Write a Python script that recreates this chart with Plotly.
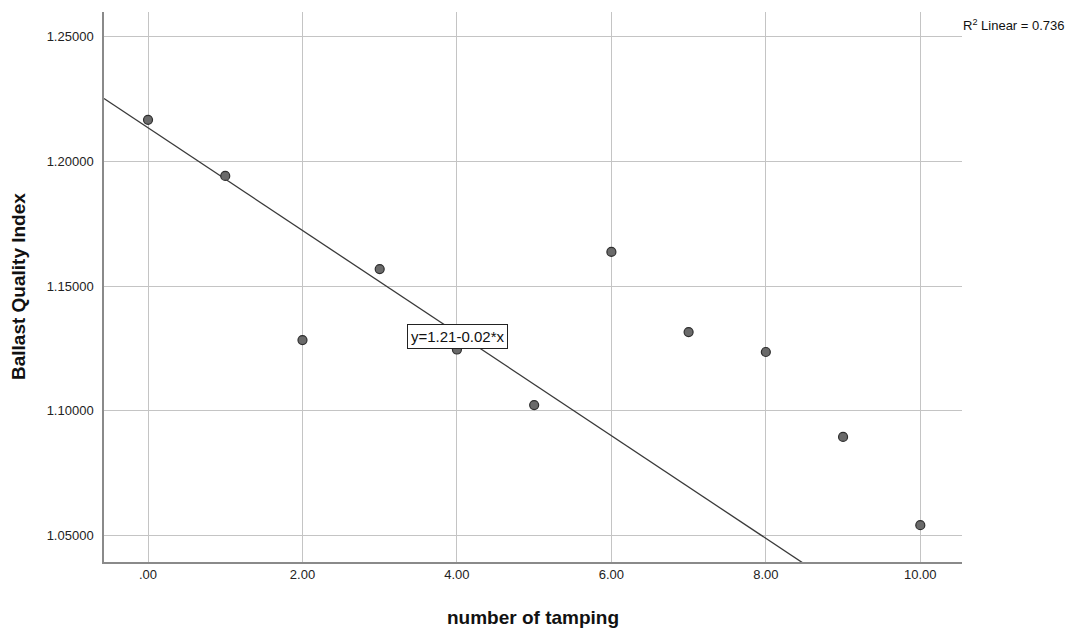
import numpy as np
import plotly.graph_objects as go

# Observations: number of tamping passes vs. ballast quality index
tamping = [0, 1, 2, 3, 4, 5, 6, 7, 8, 9, 10]
bqi = [1.2167, 1.1942, 1.1283, 1.1568, 1.1245, 1.1022, 1.1637, 1.1315, 1.1235, 1.0894, 1.0540]

# Linear fit reported for the full sample
fit_intercept = 1.2135
fit_slope = -0.0206
r_squared = 0.736

x_ticks = [0, 2, 4, 6, 8, 10]
x_ticktext = [".00", "2.00", "4.00", "6.00", "8.00", "10.00"]
y_ticks = [1.05, 1.10, 1.15, 1.20, 1.25]

x_range = [-0.57, 10.54]
y_range = [1.0392, 1.2600]

FONT = "Liberation Sans, Arial, sans-serif"

fig = go.Figure()

# Fit line spanning the whole x range (clipped to the plot area)
fx = np.array(x_range)
fig.add_trace(go.Scatter(
    x=fx, y=fit_intercept + fit_slope * fx,
    mode="lines", line=dict(color="#3a3a3a", width=1.3),
    hoverinfo="skip", showlegend=False,
))

fig.add_trace(go.Scatter(
    x=tamping, y=bqi, mode="markers",
    marker=dict(size=9, color="#6a6a6a", line=dict(color="#2e2e2e", width=1.2)),
    showlegend=False,
))

# Equation label on the fit line
sign = "-" if fit_slope < 0 else "+"
fig.add_annotation(
    x=4.01, y=1.1299, xref="x", yref="y",
    text=f"y={fit_intercept:.2f}{sign}{abs(fit_slope):.2f}*x",
    showarrow=False, font=dict(family=FONT, size=15, color="#111"),
    bgcolor="white", bordercolor="#222", borderwidth=1, borderpad=3,
)

# R squared note at top right
fig.add_annotation(
    x=1.0, y=0.995, xref="paper", yref="paper", xanchor="left", yanchor="top",
    xshift=-1,
    text=f"R<sup>2</sup> Linear = {r_squared:.3f}",
    showarrow=False, font=dict(family=FONT, size=13, color="#111"),
)

# Axis titles
fig.add_annotation(
    x=0.5, y=-0.1, xref="paper", yref="paper", xanchor="center", yanchor="middle",
    text="<b>number of tamping</b>", showarrow=False,
    font=dict(family=FONT, size=19, color="#111"),
)
fig.add_annotation(
    x=-0.1002, y=0.5, xref="paper", yref="paper", xanchor="center", yanchor="middle",
    text="<b>Ballast Quality Index</b>", showarrow=False, textangle=-90,
    font=dict(family=FONT, size=19, color="#111"),
)

fig.update_xaxes(
    range=x_range, tickvals=x_ticks, ticktext=x_ticktext,
    showgrid=True, gridcolor="#c4c4c4", gridwidth=1,
    showline=True, linecolor="#8a8a8a", linewidth=1.5,
    zeroline=False, ticks="", ticklen=0, automargin=False,
    tickfont=dict(family=FONT, size=13, color="#222"),
)
fig.update_yaxes(
    range=y_range, tickvals=y_ticks, tickformat=".5f",
    showgrid=True, gridcolor="#c4c4c4", gridwidth=1,
    showline=True, linecolor="#8a8a8a", linewidth=1.5,
    zeroline=False, ticks="", ticklen=0, ticklabelstandoff=6, automargin=False,
    tickfont=dict(family=FONT, size=13, color="#222"),
)

fig.update_layout(
    width=1081, height=630,
    margin=dict(l=104, r=119, t=12, b=68),
    plot_bgcolor="white", paper_bgcolor="white",
    showlegend=False,
)

fig.write_html("out.html")
